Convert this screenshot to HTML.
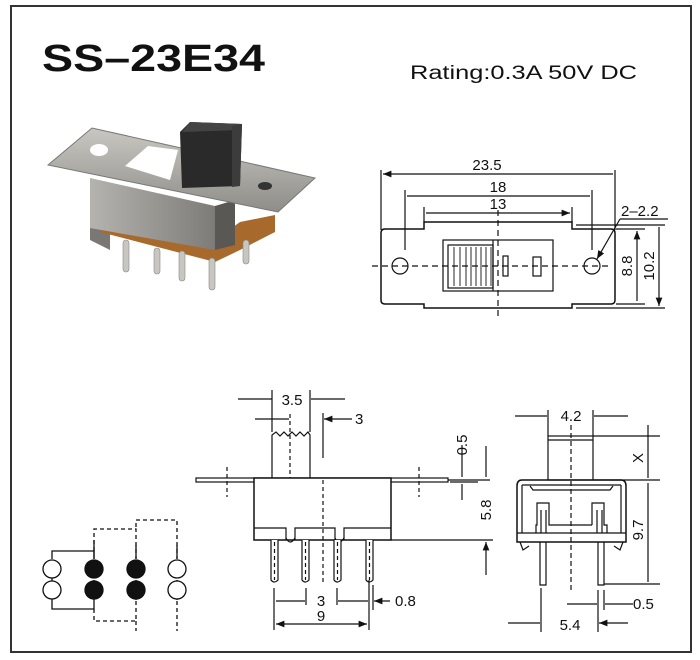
<!DOCTYPE html>
<html><head><meta charset="utf-8"><style>
html,body{margin:0;padding:0;background:#fff;}
svg{display:block;}
text{font-family:"Liberation Sans",Arial,sans-serif;fill:#111;}
</style></head><body>
<svg width="700" height="660" viewBox="0 0 700 660" xmlns="http://www.w3.org/2000/svg">
<defs>
<marker id="a" viewBox="0 0 10 10" refX="10" refY="5" markerWidth="7" markerHeight="7" orient="auto-start-reverse"><path d="M0,1 L10,5 L0,9 z" fill="#111"/></marker>
<linearGradient id="met" x1="0" y1="0" x2="0" y2="1"><stop offset="0" stop-color="#c9c7c2"/><stop offset="1" stop-color="#8f8d88"/></linearGradient>
<linearGradient id="body" x1="0" y1="0" x2="1" y2="0"><stop offset="0" stop-color="#b5b3ae"/><stop offset="1" stop-color="#7e7c78"/></linearGradient>
</defs>
<rect x="11" y="6" width="680" height="646" fill="none" stroke="#333" stroke-width="2"/>
<text x="42" y="71" font-size="38" font-weight="bold" textLength="223" lengthAdjust="spacingAndGlyphs">SS–23E34</text>
<text x="410" y="79" font-size="19" textLength="227" lengthAdjust="spacingAndGlyphs">Rating:0.3A 50V DC</text>

<!-- photo -->
<g>
<polygon points="90,205 110,208 110,250 90,240" fill="#7a7874"/>
<polygon points="100,232 215,262 240,250 275,232 275,215 240,222 215,240 110,215" fill="#a86a2c"/>
<g fill="#c8c6c0" stroke="#888" stroke-width="0.6">
<rect x="123" y="240" width="6" height="32" rx="3"/><rect x="154" y="248" width="6" height="26" rx="3"/><rect x="179" y="251" width="6" height="30" rx="3"/><rect x="209" y="258" width="6" height="32" rx="3"/><rect x="243" y="240" width="6" height="24" rx="3"/>
</g>
<polygon points="90,178 215,206 215,250 90,228" fill="url(#body)"/>
<polygon points="215,206 235,200 235,245 215,250" fill="#5a5855"/>
<polygon points="48,165 92,128 315,178 278,212" fill="url(#met)" stroke="#777" stroke-width="1"/>
<ellipse cx="99" cy="150" rx="9" ry="6" fill="#fff"/>
<polygon points="125,166 148,146 178,150 170,180" fill="#fff"/>
<ellipse cx="265" cy="186" rx="7" ry="4" fill="#333"/>
<polygon points="180,132 190,122 242,124 240,186 182,188" fill="#2a2a2a"/>
<polygon points="190,122 242,124 240,130 182,132" fill="#444"/>
<polygon points="232,126 242,124 240,186 232,187" fill="#3c3c3c"/>
</g>

<g stroke="#111" stroke-width="1.2" fill="none">
<!-- TOP VIEW -->
<path d="M385,229 H424 V222 H572 V229 H611 Q615,229 615,233 V300 Q615,304 611,304 H572 V308 H424 V304 H385 Q381,304 381,300 V233 Q381,229 385,229 Z" stroke-width="1.5"/>
<circle cx="400" cy="266" r="8"/><circle cx="592" cy="266" r="8"/>
<rect x="443" y="240" width="110" height="51"/>
<rect x="448" y="245" width="45" height="43"/>
<path d="M454,247 V286 M460,247 V286 M466,247 V286 M471,247 V286 M476,247 V286 M481,247 V286 M486,247 V286 M491,247 V286" stroke-width="0.9"/>
<path d="M493,240 V291"/>
<rect x="503" y="256" width="5" height="20"/>
<rect x="533" y="257" width="8" height="19"/>
<path d="M372,266 H610 M498,210 V318" stroke-dasharray="6,4"/>
<path d="M381,170 V230 M615,170 V230 M405,190 V250 M592,190 V250 M424,207 V222 M572,207 V222"/>
<path d="M383,174 H613 M407,196 H590 M426,213 H570" marker-start="url(#a)" marker-end="url(#a)"/>
<path d="M576,225 H665 M616,229 H645 M616,304 H645 M576,308 H665 M620,219 H668"/>
<path d="M637,231 V301 M659,227 V306" marker-start="url(#a)" marker-end="url(#a)"/>
<path d="M620,219 L597,259" marker-end="url(#a)"/>

<!-- SIDE VIEW -->
<rect x="196" y="478" width="252" height="4"/>
<rect x="254" y="478" width="137" height="62" fill="#fff" stroke-width="1.5"/>
<path d="M254,528 H286 V540 M295,540 V528 H335 V540 M344,540 V528 H391"/>
<path d="M286,538 Q290,546 295,538 M335,538 Q339,546 344,538"/>
<path d="M272,478 V435 L276,432 L280,436 L284,432 L288,436 L292,432 L296,436 L300,432 L304,436 L308,432 L310,435 V478"/>
<g fill="#fff">
<path d="M271,540 V580 Q274,584 278,580 V540"/><path d="M302,540 V580 Q305,584 309,580 V540"/><path d="M334,540 V580 Q337,584 341,580 V540"/><path d="M366,540 V580 Q369,584 373,580 V540"/>
</g>
<path d="M274.5,542 V580 M305.5,542 V580 M337.5,542 V580 M369.5,542 V580 M290,414 V478 M323,480 V585 M227,467 V497 M419,467 V497" stroke-dasharray="4,3"/>
<path d="M272,390 V432 M310,390 V432 M323,413 V458"/>
<path d="M238,399 H272 M345,399 H311 M255,419 H289 M352,419 H324" marker-end="url(#a)"/>
<path d="M448,480 H490 M391,540 H493 M450,482 H478"/>
<path d="M462,445 V477 M486,446 V477 M462,500 V484 M486,575 V542" marker-end="url(#a)"/>
<path d="M274,588 V630 M306,588 V605 M337,588 V605 M369,580 V630 M373,585 V610"/>
<path d="M276,601 H305 M368,601 H338 M390,601 H374" marker-end="url(#a)"/>
<path d="M276,624 H367" marker-start="url(#a)" marker-end="url(#a)"/>

<!-- END VIEW -->
<rect x="548" y="436" width="45" height="44"/>
<path d="M548,440 H593 M593,436 H660 M593,480 H660 M604,584 H660"/>
<path d="M522,480 H621 Q626,480 626,486 V542 H517 V486 Q517,480 522,480 Z" stroke-width="1.5"/>
<path d="M522,485 H621 M522,485 V533 M621,485 V533 M517,533 H626"/>
<path d="M530,486 L533,490 H610 L613,486"/>
<path d="M536,533 V525 H537 V503 H549 V525 H551 M592,525 V503 H604 V525 H607 V533 M551,525 H592 M541,510 V533 M546,510 V533 M597,510 V533 M602,510 V533"/>
<path d="M520,542 L523,550 L529,546 M623,542 L620,550 L614,546"/>
<path d="M540,542 V585 H546 V542 M598,542 V585 H604 V542"/>
<path d="M571,425 V590" stroke-dasharray="5,3"/>
<path d="M548,410 V436 M593,410 V436 M541,588 V632 M598,590 V632 M604,590 V610"/>
<path d="M515,416 H547 M628,416 H594 M648,425 V478 M648,483 V582 M567,604 H597 M633,604 H605 M508,623 H540 M628,623 H599" marker-end="url(#a)"/>

<!-- CIRCUIT -->
<path d="M52,559 V551 H94 V559 M52,578 V609 H94 V580" stroke-width="1.3" marker-end="url(#a)"/>
<path d="M94,551 V529 H136 V559 M94,609 V621 H136 V580 M136,527 V520 H177 V559 M136,621 V631 M177,580 V631" stroke-dasharray="4,3" stroke-width="1.3"/>
<path d="M94,540 V559 M136,545 V559 M177,545 V559 M94,600 V580 M136,600 V580 M177,600 V580" marker-end="url(#a)" stroke-width="1.3"/>
</g>
<g stroke="#111" stroke-width="1.3">
<circle cx="52" cy="569" r="9" fill="#fff"/><circle cx="94" cy="569" r="9" fill="#111"/><circle cx="136" cy="569" r="9" fill="#111"/><circle cx="177" cy="569" r="9" fill="#fff"/>
<circle cx="52" cy="590" r="9" fill="#fff"/><circle cx="94" cy="590" r="9" fill="#111"/><circle cx="136" cy="590" r="9" fill="#111"/><circle cx="177" cy="590" r="9" fill="#fff"/>
</g>

<g font-size="15">
<text x="487" y="170" text-anchor="middle">23.5</text>
<text x="498" y="192" text-anchor="middle">18</text>
<text x="498" y="209" text-anchor="middle">13</text>
<text x="621" y="216">2–2.2</text>
<text transform="translate(632,266) rotate(-90)" text-anchor="middle">8.8</text>
<text transform="translate(654,266) rotate(-90)" text-anchor="middle">10.2</text>
<text x="292" y="405" text-anchor="middle">3.5</text>
<text x="355" y="424">3</text>
<text transform="translate(467,445) rotate(-90)" text-anchor="middle">0.5</text>
<text transform="translate(491,510) rotate(-90)" text-anchor="middle">5.8</text>
<text x="321" y="606" text-anchor="middle">3</text>
<text x="395" y="606">0.8</text>
<text x="321" y="621" text-anchor="middle">9</text>
<text x="571" y="421" text-anchor="middle">4.2</text>
<text transform="translate(643,458) rotate(-90)" text-anchor="middle">X</text>
<text transform="translate(643,530) rotate(-90)" text-anchor="middle">9.7</text>
<text x="633" y="609">0.5</text>
<text x="570" y="630" text-anchor="middle">5.4</text>
</g>
</svg>
</body></html>
